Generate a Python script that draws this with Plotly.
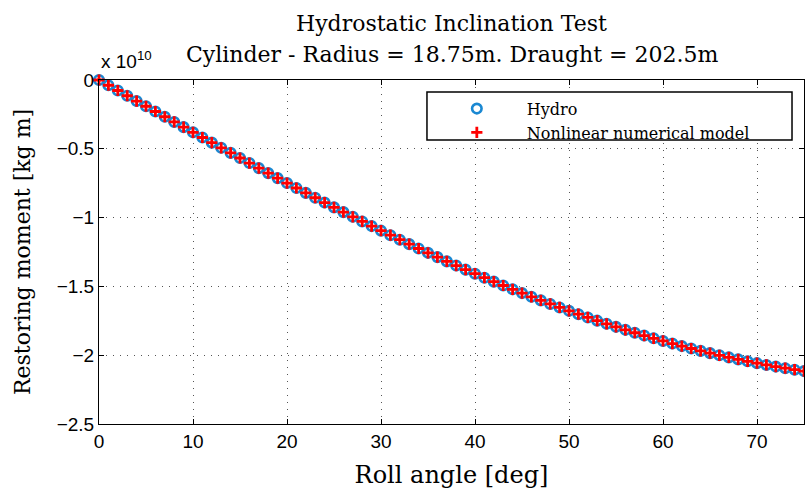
import plotly.graph_objects as go

roll_deg = list(range(0, 76))

hydro = [0.0, -0.0382, -0.0764, -0.1146, -0.1528, -0.1909, -0.2289, -0.2669, -0.3048, -0.3426,
         -0.3803, -0.4179, -0.4553, -0.4926, -0.5298, -0.5668, -0.6036, -0.6403, -0.6767, -0.7130,
         -0.7490, -0.7848, -0.8204, -0.8557, -0.8908, -0.9255, -0.9600, -0.9942, -1.0281, -1.0617,
         -1.0950, -1.1279, -1.1605, -1.1928, -1.2246, -1.2561, -1.2872, -1.3180, -1.3483, -1.3782,
         -1.4077, -1.4368, -1.4654, -1.4936, -1.5213, -1.5486, -1.5754, -1.6017, -1.6275, -1.6528,
         -1.6776, -1.7020, -1.7257, -1.7490, -1.7717, -1.7939, -1.8156, -1.8367, -1.8572, -1.8772,
         -1.8966, -1.9154, -1.9337, -1.9513, -1.9684, -1.9848, -2.0007, -2.0159, -2.0305, -2.0445,
         -2.0579, -2.0707, -2.0828, -2.0943, -2.1052, -2.1154]

nonlinear = [0.0, -0.0382, -0.0764, -0.1146, -0.1528, -0.1909, -0.2289, -0.2669, -0.3048, -0.3426,
             -0.3803, -0.4179, -0.4553, -0.4926, -0.5298, -0.5668, -0.6036, -0.6403, -0.6767, -0.7130,
             -0.7490, -0.7848, -0.8204, -0.8557, -0.8908, -0.9255, -0.9600, -0.9942, -1.0281, -1.0617,
             -1.0950, -1.1279, -1.1605, -1.1928, -1.2246, -1.2561, -1.2872, -1.3180, -1.3483, -1.3782,
             -1.4077, -1.4368, -1.4654, -1.4936, -1.5213, -1.5486, -1.5754, -1.6017, -1.6275, -1.6528,
             -1.6776, -1.7020, -1.7257, -1.7490, -1.7717, -1.7939, -1.8156, -1.8367, -1.8572, -1.8772,
             -1.8966, -1.9154, -1.9337, -1.9513, -1.9684, -1.9848, -2.0007, -2.0159, -2.0305, -2.0445,
             -2.0579, -2.0707, -2.0828, -2.0943, -2.1052, -2.1154]

x_ticks = [0, 10, 20, 30, 40, 50, 60, 70]
y_ticks = [0, -0.5, -1, -1.5, -2, -2.5]
y_tick_labels = ["0", "\u22120.5", "\u22121", "\u22121.5", "\u22122", "\u22122.5"]

serif = "DejaVu Serif, serif"
sans = "Liberation Sans, Arial, sans-serif"

fig = go.Figure()
fig.add_trace(go.Scatter(
    x=roll_deg, y=hydro, mode="markers", name="Hydro", cliponaxis=False,
    marker=dict(symbol="circle-open", size=9.5, color="#1a88d2",
                line=dict(width=2.6, color="#1a88d2")),
))
fig.add_trace(go.Scatter(
    x=roll_deg, y=nonlinear, mode="markers", name="Nonlinear numerical model", cliponaxis=False,
    marker=dict(symbol="cross-thin", size=8, color="#ff0000",
                line=dict(width=2.8, color="#ff0000")),
))

axis_common = dict(
    showline=True, linecolor="black", linewidth=1, mirror="ticks",
    ticks="inside", ticklen=5, tickcolor="black",
    showgrid=True, gridcolor="#555555", gridwidth=1, griddash="1px,6px",
    zeroline=False,
    tickfont=dict(family=sans, size=19, color="black"),
)

fig.update_layout(
    width=805, height=491,
    margin=dict(l=99, r=1, t=80, b=67),
    paper_bgcolor="white", plot_bgcolor="white",
    showlegend=True,
    legend=dict(
        x=0.465, y=0.966, xanchor="left", yanchor="top",
        bgcolor="rgba(0,0,0,0)", borderwidth=0,
        font=dict(family=serif, size=16, color="black"),
        itemwidth=90, tracegroupgap=0,
    ),
    shapes=[
        dict(type="rect", xref="paper", yref="paper",
             x0=0.4652, x1=0.983, y0=0.8256, y1=0.9651,
             line=dict(color="black", width=1.5), fillcolor="white", layer="above"),
    ],
    xaxis=dict(range=[0, 75], tickvals=x_ticks,
               title=dict(text="Roll angle [deg]", font=dict(family=serif, size=24, color="black"), standoff=15),
               **axis_common),
    yaxis=dict(range=[-2.5, 0], tickvals=y_ticks, ticktext=y_tick_labels,
               title=dict(text="Restoring moment [kg m]", font=dict(family=serif, size=22, color="black"), standoff=19),
               **axis_common),
    annotations=[
        dict(text="Hydrostatic Inclination Test", x=0.5, xref="paper", y=1.0, yref="paper",
             yanchor="middle", yshift=57, showarrow=False,
             font=dict(family=serif, size=22, color="black")),
        dict(text="Cylinder - Radius = 18.75m. Draught = 202.5m", x=0.5, xref="paper", y=1.0, yref="paper",
             yanchor="middle", yshift=26, showarrow=False,
             font=dict(family=serif, size=22, color="black")),
        dict(text="x 10<sup>10</sup>", x=0, xref="paper", y=1.0, yref="paper",
             xanchor="left", yanchor="bottom", yshift=6, showarrow=False,
             font=dict(family=sans, size=19, color="black")),
    ],
)

fig.write_html("out.html")
